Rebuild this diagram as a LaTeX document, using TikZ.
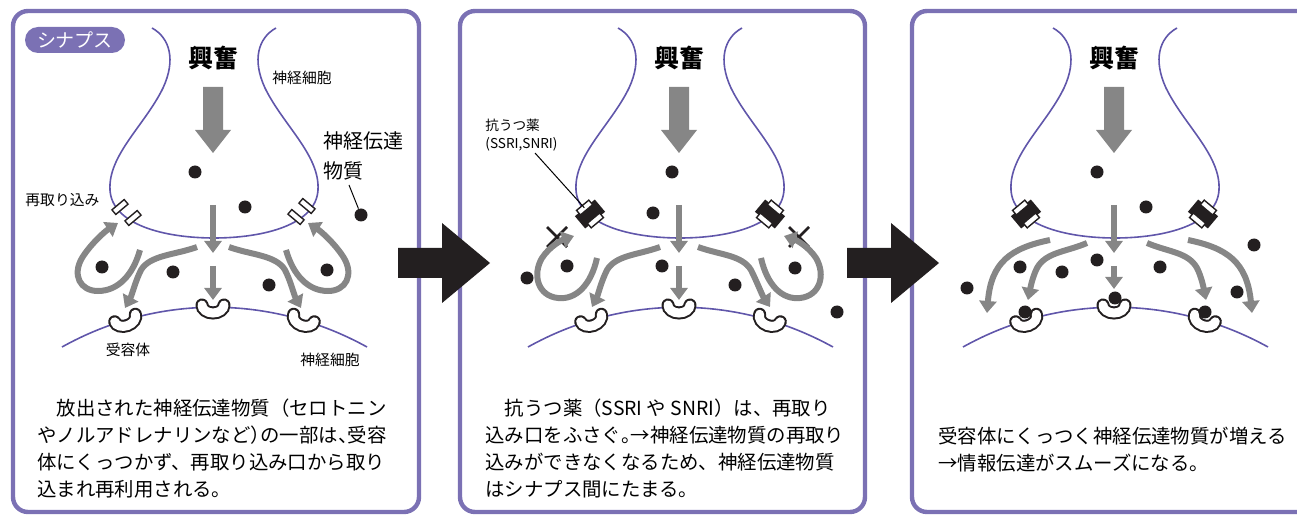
\documentclass[tikz,border=0pt]{standalone}
\usepackage{fontspec}
\setmainfont{Noto Sans CJK JP}
\usetikzlibrary{arrows.meta}

\definecolor{synpurple}{RGB}{123,113,180}
\definecolor{membrane}{RGB}{96,86,170}
\definecolor{flowgray}{RGB}{134,134,134}
\definecolor{ink}{RGB}{35,31,32}

\begin{document}
\begin{tikzpicture}[x=0.5pt, y=-0.5pt,
  panel/.style={draw=synpurple, line width=2.2pt, rounded corners=7.5pt},
  cell/.style={draw=membrane, line width=0.8pt},
  flow/.style={draw=flowgray, line width=3pt, -{Triangle[length=6pt,width=8.5pt]}},
  receptor/.style={draw=ink, line width=1pt, double=white, double distance=4.5pt, line cap=round},
  pump/.style={draw=ink, fill=white, line width=0.7pt, minimum width=8pt, minimum height=3pt, inner sep=0pt},
  drug/.style={fill=ink, minimum width=13pt, minimum height=8pt, inner sep=0pt},
  drugpump/.style={pump, minimum width=8pt, minimum height=3pt},
  mol/.style={circle, fill=ink, inner sep=0pt, minimum size=6.5pt},
  blockmark/.style={draw=ink, line width=1.3pt},
  smalltxt/.style={inner sep=0pt, font=\fontsize{7.4}{9}\selectfont},
  captxt/.style={inner sep=0pt, anchor=north west, align=left, font=\fontsize{9.7}{13.5}\selectfont},
]
\useasboundingbox (0,0) rectangle (1297,518);

% frames
\draw[panel] (13,11) rectangle (419,512);
\draw[panel] (460,11) rectangle (865,512);
\draw[panel] (1297,11) -- (912,11) -- (912,512) -- (1297,512);

% what every synapse has
\foreach \dx/\tipy in {0/300,466/300,901/289} {
\begin{scope}[shift={(\dx,0)}]
  \draw[cell] (152,28) .. controls (170,38) and (176,60) .. (163,88)
    .. controls (145,125) and (108,155) .. (110,190)
    .. controls (112,225) and (165,238) .. (214,238)
    .. controls (263,238) and (316,225) .. (318,190)
    .. controls (320,155) and (283,125) .. (265,88)
    .. controls (252,60) and (258,38) .. (276,28);
  \node[inner sep=0pt, font=\bfseries\fontsize{12.5}{14}\selectfont] (excite\dx) at (213,58) {興奮};
  \fill[flowgray] (203,87) -- (223,87) -- (223,130) -- (231,130) -- (213,153)
    -- (195,130) -- (203,130) -- cycle;
  \draw[cell] (62,347) .. controls (157,294) and (271,294) .. (367,347);
  \foreach \rx/\ry/\ra in {125/318/20,213/305/0,304/318/-20}
    \draw[receptor, rotate around={\ra:(\rx,\ry)}] (\rx-11,\ry)
      arc[start angle=180, end angle=0, x radius=11, y radius=8];
  \draw[flow] (213,205) -- (213,253);
  \draw[flow] (213,266) -- (213,\tipy);
\end{scope}
}

% 1: reuptake
\node[pump, rotate=40] (pumpA) at (120,207) {};
\node[pump, rotate=40] (pumpB) at (133,218) {};
\node[pump, rotate=-40] (pumpC) at (296,217) {};
\node[pump, rotate=-40] (pumpD) at (307,206) {};
\node[fill=synpurple, rounded corners=6.5pt, minimum width=50pt, minimum height=13pt,
  inner sep=0pt, text=white, font=\fontsize{9.5}{10}\selectfont] (badge) at (75,40) {シナプス};
\node[smalltxt, anchor=west] (cellupper) at (272,78) {神経細胞};
\node[smalltxt, anchor=west] (reuptake) at (25,200) {再取り込み};
\node[smalltxt] (recname) at (128,350) {受容体};
\node[smalltxt] (celllower) at (330,360) {神経細胞};
\node[inner sep=0pt, anchor=north west, align=left, font=\fontsize{10}{15}\selectfont]
  (ntname) at (323,131) {神経伝達\\物質};
\foreach \mx/\my [count=\k] in {195/172,245/207,102/267,173/272,269/285,327/270}
  \node[mol] (ma\k) at (\mx,\my) {};
\node[mol] (ntdot) at (361,215) {};
\coordinate (ntlead) at (349,185);
\draw[line width=0.5pt] (ntlead) -- (ntdot);
\draw[flow] (140,250) .. controls (133,275) and (118,291) .. (98,291)
  .. controls (80,291) and (72,275) .. (82,258) .. controls (90,245) and (104,232) .. (118,223);
\draw[flow] (286,250) .. controls (293,275) and (308,291) .. (328,291)
  .. controls (346,291) and (354,275) .. (344,258) .. controls (336,245) and (322,232) .. (308,223);
\draw[flow] (197,247) .. controls (175,255) and (150,255) .. (141,270)
  .. controls (135,282) and (132,295) .. (125,308);
\draw[flow] (229,247) .. controls (251,255) and (276,255) .. (285,270)
  .. controls (291,282) and (294,295) .. (301,308);
\node[captxt] (capA) at (37,398) {　放出された神経伝達物質（セロトニン\\
  やノルアドレナリンなど\makebox[0.5em][l]{）}の一部は\makebox[0.5em][l]{、}受容\\
  体にくっつかず、再取り込み口から取り\\
  込まれ再利用される。};

% 2: the drug blocks reuptake
\begin{scope}[shift={(466,0)}]
  \node[drug, rotate=40] (drugL) at (124,214) {};
  \node[drugpump, rotate=40] (drugLa) at (drugL.north) {};
  \node[drugpump, rotate=40] (drugLb) at (drugL.south) {};
  \node[drug, rotate=-40] (drugR) at (304,214) {};
  \node[drugpump, rotate=-40] (drugRa) at (drugR.north) {};
  \node[drugpump, rotate=-40] (drugRb) at (drugR.south) {};
  \node[inner sep=0pt, anchor=north west, align=left, font=\fontsize{6.8}{9}\selectfont]
    (druglabel) at (19,119) {抗うつ薬\\(SSRI,SNRI)};
  \coordinate (druglead) at (69,153);
  \draw[line width=0.5pt] (druglead) -- (drugL);
  \foreach \cx in {91,333}
    \draw[blockmark] (\cx-10,227) -- (\cx+10,247) (\cx-10,247) -- (\cx+10,227);
  \draw[flow] (131,258) .. controls (125,285) and (110,300) .. (92,298)
    .. controls (72,296) and (66,275) .. (76,258) .. controls (84,246) and (96,240) .. (108,236);
  \draw[flow] (295,258) .. controls (301,285) and (316,300) .. (334,298)
    .. controls (354,296) and (360,275) .. (350,258) .. controls (342,246) and (330,240) .. (318,236);
  \draw[flow] (194,247) .. controls (172,255) and (150,255) .. (141,270)
    .. controls (135,282) and (132,295) .. (126,307);
  \draw[flow] (232,247) .. controls (254,255) and (276,255) .. (285,270)
    .. controls (291,282) and (296,295) .. (304,307);
  \foreach \mx/\my [count=\k] in {206/172,187/213,61/278,101/266,196/266,269/285,329/268,371/312}
    \node[mol] (mb\k) at (\mx,\my) {};
  \node[captxt] (capB) at (19,398) {　抗うつ薬（SSRI や SNRI）は、再取り\\
    込み口をふさぐ\makebox[0.5em][l]{。}→神経伝達物質の再取り\\
    込みができなくなるため、神経伝達物質\\
    はシナプス間にたまる。};
\end{scope}

% 3: more transmitter reaches the receptors
\begin{scope}[shift={(901,0)}]
  \node[drug, rotate=40] (drugL) at (125,214) {};
  \node[drugpump, rotate=40] (drugLa) at (drugL.north) {};
  \node[drugpump, rotate=40] (drugLb) at (drugL.south) {};
  \node[drug, rotate=-40] (drugR) at (302,214) {};
  \node[drugpump, rotate=-40] (drugRa) at (drugR.north) {};
  \node[drugpump, rotate=-40] (drugRb) at (drugR.south) {};
  \draw[flow] (149,240) .. controls (110,248) and (90,262) .. (86,313);
  \draw[flow] (186,243) .. controls (165,252) and (145,252) .. (136,268)
    .. controls (131,278) and (129,290) .. (127,300);
  \draw[flow] (246,243) .. controls (267,252) and (287,252) .. (296,268)
    .. controls (301,278) and (303,290) .. (305,300);
  \draw[flow] (287,240) .. controls (326,248) and (346,262) .. (351,313);
  \foreach \mx/\my [count=\k] in {196/172,245/207,353/245,119/267,161/272,196/260,259/267,
      336/292,66/288,124/312,214/298,304/312}
    \node[mol] (mc\k) at (\mx,\my) {};
  \node[captxt] (capC) at (37,427) {受容体にくっつく神経伝達物質が増える\\
    →情報伝達がスムーズになる。};
\end{scope}

% step arrows
\foreach \ax in {398,847}
  \fill[ink] (\ax,248) -- (\ax+44,248) -- (\ax+44,223) -- (\ax+92,263)
    -- (\ax+44,303) -- (\ax+44,278) -- (\ax,278) -- cycle;
\end{tikzpicture}
\end{document}
